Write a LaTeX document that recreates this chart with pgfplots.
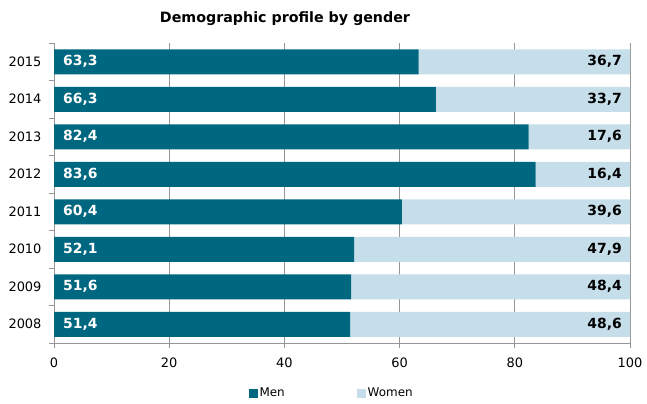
\documentclass[border=0pt]{standalone}
\usepackage{pgfplots}
\pgfplotsset{compat=1.18}
\usepackage{pgfplotstable}
\usepackage{fontspec}
\setmainfont{DejaVu Sans}
\definecolor{men}{RGB}{0,103,128}
\definecolor{women}{RGB}{197,222,233}
\definecolor{gridc}{RGB}{150,150,150}
\pgfplotstableread{
year men women
2008 51.4 48.6
2009 51.6 48.4
2010 52.1 47.9
2011 60.4 39.6
2012 83.6 16.4
2013 82.4 17.6
2014 66.3 33.7
2015 63.3 36.7
}\data
\begin{document}
\begin{tikzpicture}
\path[use as bounding box] (-54bp,-61bp) rectangle (593bp,343bp);
\begin{axis}[
  at={(0,0)}, anchor=south west,
  scale only axis, width=576bp, height=300bp,
  stack plots=x,
  xmin=0, xmax=100, ymin=2007.5, ymax=2015.5,
  xtick={0,20,...,100}, ytick={2008,...,2015},
  minor ytick={2007.5,2008.5,...,2015.5},
  axis x line*=bottom, axis y line*=left,
  axis line style={gridc, line width=0.8bp},
  xmajorgrids, major grid style={gridc, line width=0.8bp},
  tick align=outside, tick style={gridc, line width=0.8bp},
  major tick length=5bp, minor tick length=5bp,
  every major y tick/.style={draw=none},
  tick label style={font=\fontsize{13}{15}\selectfont, text=black},
  /pgf/number format/assume math mode=true,
  yticklabel style={/pgf/number format/1000 sep={}, xshift=-4bp},
  xticklabel style={yshift=-6bp},
  title={\textbf{Demographic profile by gender}},
  title style={at={(0.401,1)}, anchor=center, yshift=18bp, font=\fontsize{14.3}{16}\selectfont},
  legend style={draw=none, legend columns=2, at={(0.482,-0.167)}, anchor=center,
    font=\fontsize{12}{14}\selectfont, inner sep=0pt,
    /tikz/every even column/.append style={column sep=70bp}},
  legend image code/.code={\fill[#1] (0bp,-4.5bp) rectangle (9bp,4.5bp);},
]
\addplot[xbar, bar shift=0pt, bar width=25bp, fill=men, draw=none] table[x=men, y=year]{\data};
\addlegendentry{Men}
\addplot[xbar, bar shift=0pt, bar width=25bp, fill=women, draw=none] table[x=women, y=year]{\data};
\addlegendentry{Women}
\addplot[stack plots=false, forget plot, draw=none, mark=none, point meta=explicit,
  nodes near coords={\pgfmathprintnumber[fixed,fixed zerofill,precision=1,use comma]{\pgfplotspointmeta}},
  every node near coord/.style={anchor=west, inner sep=0pt, xshift=9bp, text=white, font=\fontsize{14}{16}\selectfont\bfseries}]
  table[x expr=0, y=year, meta=men]{\data};
\addplot[stack plots=false, forget plot, draw=none, mark=none, point meta=explicit,
  nodes near coords={\pgfmathprintnumber[fixed,fixed zerofill,precision=1,use comma]{\pgfplotspointmeta}},
  every node near coord/.style={anchor=east, inner sep=0pt, xshift=-8bp, text=black, font=\fontsize{14}{16}\selectfont\bfseries}]
  table[x expr=100, y=year, meta=women]{\data};
\end{axis}
\end{tikzpicture}
\end{document}
